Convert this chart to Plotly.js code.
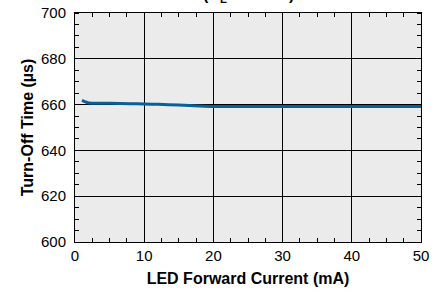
<!DOCTYPE html>
<html>
<head>
<meta charset="utf-8">
<script src="https://cdn.plot.ly/plotly-3.0.1.min.js"></script>
<style>html,body{margin:0;padding:0;background:#fff;}#chart{width:438px;height:295px;}</style>
</head>
<body>
<div id="chart"></div>
<script>
const ledCurrent = [1, 1.5, 2, 3, 5, 8, 10, 12, 15, 18, 20, 25, 30, 35, 40, 45, 50];
const turnOffTime = [661.8, 661.2, 660.7, 660.6, 660.6, 660.4, 660.3, 660.1, 659.8, 659.4, 659.2, 659.2, 659.2, 659.2, 659.2, 659.2, 659.2];
const xTitle = 'LED Forward Current (mA)';
const yTitle = 'Turn-Off Time (\u00b5s)';
const chartTitle = '(R<sub>L</sub> = 10 k\u03a9)';

const font = 'Liberation Sans, Arial, Helvetica, sans-serif';
const data = [{
  x: ledCurrent, y: turnOffTime, type: 'scatter', mode: 'lines',
  line: {color: '#0a5f96', width: 3, shape: 'spline', smoothing: 0.6},
  hoverinfo: 'skip'
}];
const axisCommon = {
  showline: true, linecolor: '#000', linewidth: 1, mirror: 'ticks',
  tickwidth: 1,
  showgrid: true, gridcolor: '#000', gridwidth: 1, zeroline: false,
  tickfont: {family: font, size: 15, color: '#000'}
};
const layout = {
  width: 438, height: 295,
  margin: {l: 75, r: 17, t: 13, b: 53},
  paper_bgcolor: '#fff', plot_bgcolor: '#ebebeb',
  showlegend: false,
  xaxis: Object.assign({}, axisCommon, {
    range: [0, 50], dtick: 10, tick0: 0,
    ticks: 'inside', ticklen: 4, tickcolor: '#000',
    minor: {dtick: 2.5, ticks: 'inside', ticklen: 4, tickcolor: '#000'},
    title: {text: xTitle, font: {family: font, size: 16, color: '#000', weight: 'bold'}, standoff: 9}
  }),
  yaxis: Object.assign({}, axisCommon, {
    range: [600, 700], dtick: 20, tick0: 600,
    ticks: 'outside', ticklen: 5, tickcolor: 'rgba(0,0,0,0)',
    minor: {dtick: 5, ticks: 'inside', ticklen: 4, tickcolor: '#000'},
    title: {text: yTitle, font: {family: font, size: 16, color: '#000', weight: 'bold'}, standoff: 3}
  }),
  annotations: [{
    text: '<b>' + chartTitle + '</b>', xref: 'paper', yref: 'paper',
    x: 0.5, y: 1.0, yshift: 6, xanchor: 'center', yanchor: 'bottom',
    showarrow: false, font: {family: font, size: 16, color: '#000'}
  }]
};
Plotly.newPlot('chart', data, layout, {displayModeBar: false, staticPlot: true});
</script>
</body>
</html>
